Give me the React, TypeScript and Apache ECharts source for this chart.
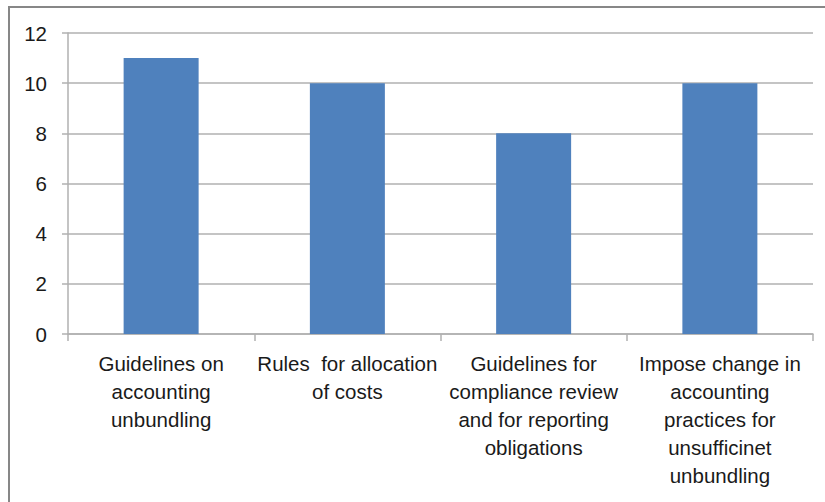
import React, { useEffect, useRef } from "react";
import * as echarts from "echarts";

const categories = [
  "Guidelines on\naccounting\nunbundling",
  "Rules  for allocation\nof costs",
  "Guidelines for\ncompliance review\nand for reporting\nobligations",
  "Impose change in\naccounting\npractices for\nunsufficinet\nunbundling",
];
const values = [11, 10, 8, 10];
const yTicks = { min: 0, max: 12, interval: 2 };

export default function App() {
  const ref = useRef<HTMLDivElement>(null);
  useEffect(() => {
    if (!ref.current) return;
    const chart = echarts.init(ref.current, null, { renderer: "svg" });
    const font = "'Liberation Sans', Arial, sans-serif";
    chart.setOption({
      animation: false,
      backgroundColor: "#fff",
      grid: { left: 68, right: 12, top: 33, bottom: 168, containLabel: false },
      graphic: [
        {
          type: "rect",
          shape: { x: 9, y: 7, width: 900, height: 600 },
          style: { fill: "none", stroke: "#878787", lineWidth: 2 },
          silent: true,
        },
      ],
      xAxis: {
        type: "category",
        data: categories,
        boundaryGap: true,
        axisLine: { show: true, lineStyle: { color: "#b0b0b0", width: 1.5 } },
        axisTick: { show: true, length: 7, alignWithLabel: false, lineStyle: { color: "#b0b0b0", width: 1.5 } },
        axisLabel: {
          interval: 0,
          color: "#1a1a1a",
          fontFamily: font,
          fontSize: 20.5,
          lineHeight: 28,
          margin: 15,
          verticalAlign: "top",
        },
      },
      yAxis: {
        type: "value",
        min: yTicks.min,
        max: yTicks.max,
        interval: yTicks.interval,
        axisLine: { show: true, lineStyle: { color: "#b0b0b0", width: 1.5 } },
        axisTick: { show: true, length: 6, lineStyle: { color: "#b0b0b0", width: 1.5 } },
        splitLine: { show: true, lineStyle: { color: "#b0b0b0", width: 1.5 } },
        axisLabel: { color: "#1a1a1a", fontFamily: font, fontSize: 20.5, margin: 21 },
      },
      series: [
        {
          type: "bar",
          data: values,
          barWidth: 75,
          itemStyle: { color: "#4F81BD" },
        },
      ],
    });
    return () => chart.dispose();
  }, []);
  return (
    <div
      ref={ref}
      style={{ position: "fixed", left: 0, top: 0, width: 825, height: 502 }}
    />
  );
}
